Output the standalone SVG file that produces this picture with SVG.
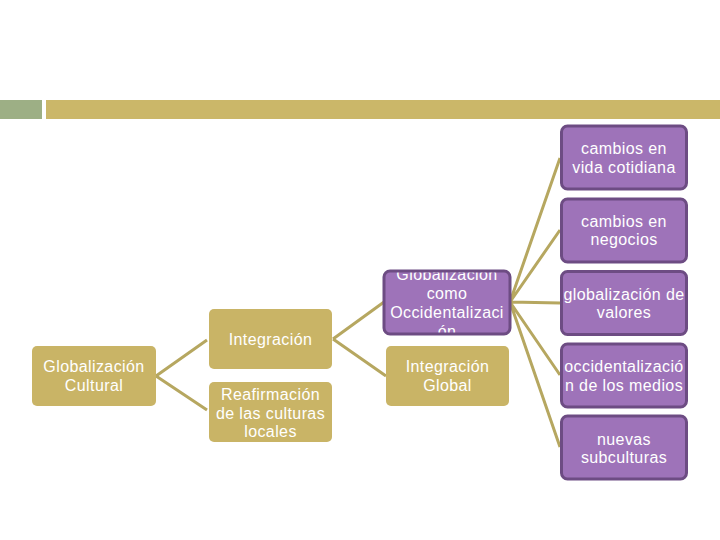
<svg xmlns="http://www.w3.org/2000/svg" width="720" height="540" viewBox="0 0 720 540">
<style>
.g{fill:#c9b466;}
.p{fill:#9e73b9;stroke:#6d4c83;stroke-width:3;}
.t{font-family:"Liberation Sans",Arial,sans-serif;font-size:16px;letter-spacing:0.4px;fill:#ffffff;text-anchor:middle;}
.c{stroke:#b6a760;stroke-width:3;fill:none;}
</style>
<rect width="720" height="540" fill="#ffffff"/>
<rect x="0" y="100" width="42" height="19" fill="#9daf85"/>
<rect x="46" y="100" width="674" height="19" fill="#cbb769"/>
<g id="connectors" class="c">
<path d="M156,376 L207,340 M156,376 L207,410"/>
<path d="M333,339 L384,302 M333,339 L386,376"/>
<path d="M510,302 L560,158 M510,302 L560,230 M510,302 L560,303 M510,302 L560,375 M510,302 L560,447"/>
</g>
<g id="n1"><rect class="g" x="32" y="346" width="124" height="60" rx="5"/><text class="t" x="94" y="372">Globalización</text><text class="t" x="94" y="391">Cultural</text></g>
<g id="n2"><rect class="g" x="209" y="309" width="123" height="60" rx="5"/><text class="t" x="270.5" y="345">Integración</text></g>
<g id="n3"><rect class="g" x="209" y="382" width="123" height="60" rx="5"/><text class="t" x="270.5" y="400">Reafirmación</text><text class="t" x="270.5" y="418.5">de las culturas</text><text class="t" x="270.5" y="437">locales</text></g>
<g id="n4"><clipPath id="cp4"><rect x="384" y="271" width="126" height="63"/></clipPath><rect class="p" x="384" y="271" width="126" height="63" rx="6" style="stroke:none"/><g clip-path="url(#cp4)"><text class="t" x="447" y="280">Globalización</text><text class="t" x="447" y="299">como</text><text class="t" x="447" y="318">Occidentalizaci</text><text class="t" x="447" y="337">ón</text></g><rect class="p" x="384" y="271" width="126" height="63" rx="6" style="fill:none"/></g>
<g id="n5"><rect class="g" x="386" y="346" width="123" height="60" rx="5"/><text class="t" x="447.5" y="372">Integración</text><text class="t" x="447.5" y="391">Global</text></g>
<g id="n6"><rect class="p" x="561.5" y="126" width="125" height="63" rx="6"/><text class="t" x="624" y="154">cambios en</text><text class="t" x="624" y="173">vida cotidiana</text></g>
<g id="n7"><rect class="p" x="561.5" y="199" width="125" height="63" rx="6"/><text class="t" x="624" y="227">cambios en</text><text class="t" x="624" y="245">negocios</text></g>
<g id="n8"><rect class="p" x="561.5" y="271.5" width="125" height="63" rx="6"/><text class="t" x="624" y="300">globalización de</text><text class="t" x="624" y="318">valores</text></g>
<g id="n9"><rect class="p" x="561.5" y="344" width="125" height="63" rx="6"/><text class="t" x="624" y="372">occidentalizació</text><text class="t" x="624" y="391">n de los medios</text></g>
<g id="n10"><rect class="p" x="561.5" y="416" width="125" height="63" rx="6"/><text class="t" x="624" y="445">nuevas</text><text class="t" x="624" y="463">subculturas</text></g>
</svg>
